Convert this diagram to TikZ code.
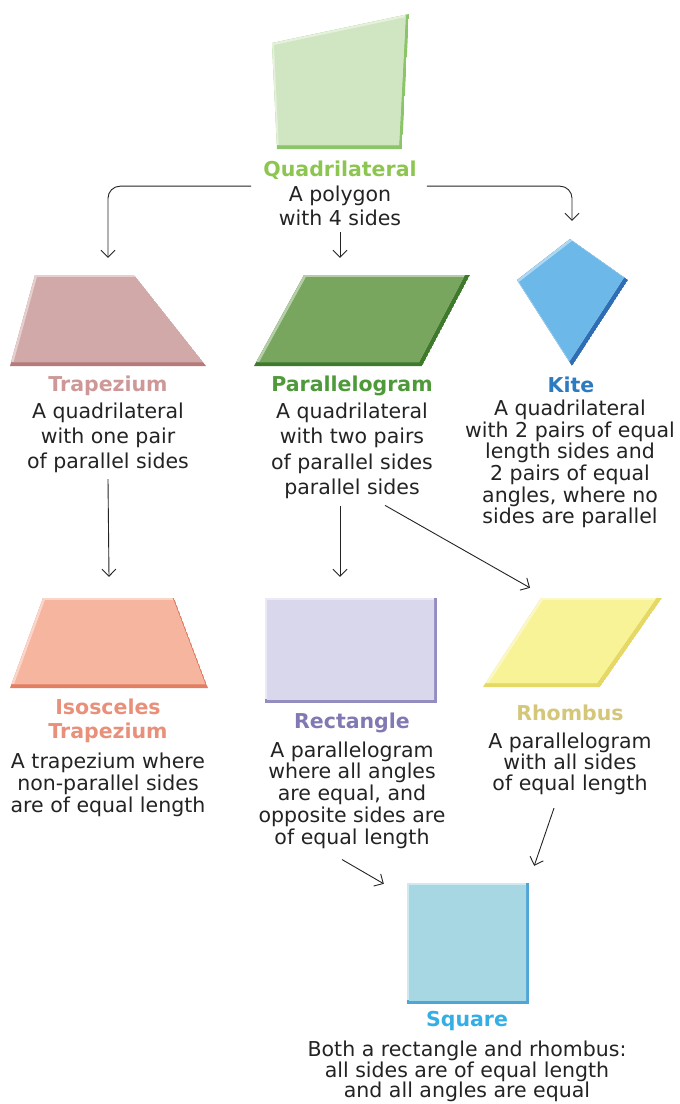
\documentclass[tikz,border=0pt]{standalone}
\usepackage{fontspec}
\setmainfont{DejaVu Sans}
\usetikzlibrary{arrows.meta}

\definecolor{txt}{RGB}{35,35,35}
\definecolor{quadfill}{RGB}{208,230,194}
\definecolor{quadedge}{RGB}{140,196,106}
\definecolor{quadtitle}{RGB}{140,198,80}
\definecolor{trapfill}{RGB}{208,169,168}
\definecolor{trapedge}{RGB}{181,122,122}
\definecolor{traptitle}{RGB}{206,152,152}
\definecolor{parafill}{RGB}{120,166,95}
\definecolor{paraedge}{RGB}{63,122,44}
\definecolor{paratitle}{RGB}{78,154,58}
\definecolor{kitefill}{RGB}{108,184,232}
\definecolor{kiteedge}{RGB}{47,110,181}
\definecolor{kitetitle}{RGB}{44,123,192}
\definecolor{isofill}{RGB}{246,181,158}
\definecolor{isoedge}{RGB}{228,126,98}
\definecolor{isotitle}{RGB}{232,144,122}
\definecolor{rectfill}{RGB}{217,215,236}
\definecolor{rectedge}{RGB}{147,141,192}
\definecolor{recttitle}{RGB}{128,121,179}
\definecolor{rhomfill}{RGB}{247,243,150}
\definecolor{rhomedge}{RGB}{230,216,100}
\definecolor{rhomtitle}{RGB}{212,199,122}
\definecolor{sqfill}{RGB}{168,215,228}
\definecolor{sqedge}{RGB}{77,166,214}
\definecolor{sqtitle}{RGB}{51,175,229}

\newcommand{\facet}[3]{%
  \begin{scope}
    \clip #3;
    \fill [#2] #3;
    \fill [#1!55!white, shift={(-3,-4)}] #3;
    \begin{scope}
      \clip [shift={(-3,-4)}] #3;
      \fill [#1, shift={(2,2)}] #3;
    \end{scope}
  \end{scope}}

\begin{document}
\begin{tikzpicture}[x=1pt, y=-1pt,
  title/.style={font=\bfseries\fontsize{20.5}{24}\selectfont, inner sep=0, align=center},
  body/.style={font=\fontsize{20.5}{22}\selectfont, text=txt, inner sep=0, align=center},
  spot/.style={inner sep=0, minimum width=#1},
  link/.style={draw=txt, line width=0.9pt, -{Straight Barb[length=7pt,width=14pt]}}]
\useasboundingbox (0,0) rectangle (680,1104);

\facet{quadfill}{quadedge}{(272,43) -- (409,14) -- (402,149) -- (277,149) -- cycle}
\facet{trapfill}{trapedge}{(35,275) -- (134,275) -- (206,366) -- (10,366) -- cycle}
\facet{parafill}{paraedge}{(304,275) -- (470,275) -- (422,366) -- (254,366) -- cycle}
\facet{kitefill}{kiteedge}{(570,239) -- (628,280) -- (572,366) -- (517,280) -- cycle}
\facet{isofill}{isoedge}{(43,598) -- (174,598) -- (208,688) -- (10,688) -- cycle}
\facet{rectfill}{rectedge}{(265,598) -- (437,598) -- (437,703) -- (265,703) -- cycle}
\facet{rhomfill}{rhomedge}{(541,598) -- (662,598) -- (600,687) -- (483,687) -- cycle}
\facet{sqfill}{sqedge}{(407,883) -- (529,883) -- (529,1004) -- (407,1004) -- cycle}

\node (trap) at (108,320.5) [spot=196, minimum height=91] {};
\node (para) at (362,320.5) [spot=216, minimum height=91] {};
\node (kite) at (572,302.5) [spot=111, minimum height=127] {};
\node (iso) at (109,643) [spot=198, minimum height=90] {};
\node (rect) at (351,650.5) [spot=172, minimum height=105] {};
\node (rhom) at (572,642.5) [spot=179, minimum height=89] {};
\node (sq) at (468,943.5) [spot=122, minimum height=121] {};

\node (quadname) at (340,176) [title, anchor=base, text=quadtitle] {Quadrilateral};
\node (quadtxt) at (340,206) [body, font=\fontsize{20.5}{24}\selectfont] {A polygon\\with 4 sides};
\node (trapname) at (108,386) [title, text=traptitle] {Trapezium};
\node (traptxt) at (108,438) [body, font=\fontsize{20.5}{25}\selectfont] {A quadrilateral\\with one pair\\of parallel sides};
\node (paraname) at (352,386) [title, text=paratitle] {Parallelogram};
\node (paratxt) at (352,451) [body, font=\fontsize{20.5}{25.5}\selectfont] {A quadrilateral\\with two pairs\\of parallel sides\\parallel sides};
\node (kitename) at (571,385) [title, text=kitetitle] {Kite};
\node (kitetxt) at (570,464) [body, font=\fontsize{20.5}{21.6}\selectfont] {A quadrilateral\\with 2 pairs of equal\\length sides and\\2 pairs of equal\\angles, where no\\sides are parallel};
\node (isoname) at (108,721) [title, text=isotitle] {Isosceles\\Trapezium};
\node (isotxt) at (108,785) [body] {A trapezium where\\non-parallel sides\\are of equal length};
\node (rectname) at (352,723) [title, text=recttitle] {Rectangle};
\node (recttxt) at (352,795) [body, font=\fontsize{20.5}{21.7}\selectfont] {A parallelogram\\where all angles\\are equal, and\\opposite sides are\\of equal length};
\node (rhomname) at (570,713) [title, text=rhomtitle] {Rhombus};
\node (rhomtxt) at (570,764) [body, font=\fontsize{20.5}{21}\selectfont] {A parallelogram\\with all sides\\of equal length};
\node (sqname) at (467,1021) [title, text=sqtitle] {Square};
\node (sqtxt) at (467,1071.5) [body, font=\fontsize{20.5}{20.5}\selectfont] {Both a rectangle and rhombus:\\all sides are of equal length\\and all angles are equal};

\draw [link, rounded corners=12] ([xshift=-12pt, yshift=-7pt]quadname.south west) -| ([yshift=17pt]trap.north);
\draw [link, rounded corners=12] ([xshift=10pt, yshift=-7pt]quadname.south east) -| ([yshift=18pt]kite.north);
\draw [link] ([yshift=-6pt]quadtxt.south) -- ([yshift=17pt]quadtxt.south |- para.north);
\draw [link] ([yshift=-6pt]traptxt.south) -- ([yshift=21pt]iso.north);
\draw [link] ([xshift=-12pt, yshift=-7pt]paratxt.south) -- ([xshift=-11pt, yshift=21pt]rect.north);
\draw [link] ([xshift=33pt, yshift=-6pt]paratxt.south) -- ([xshift=-42pt, yshift=10pt]rhom.north);
\draw [link] ([xshift=-10pt, yshift=-11pt]recttxt.south) -- ([xshift=-23pt, yshift=-1pt]sq.north west);
\draw [link] ([xshift=-16pt, yshift=-13pt]rhomtxt.south) -- ([xshift=5pt, yshift=17pt]sq.north east);
\end{tikzpicture}
\end{document}
